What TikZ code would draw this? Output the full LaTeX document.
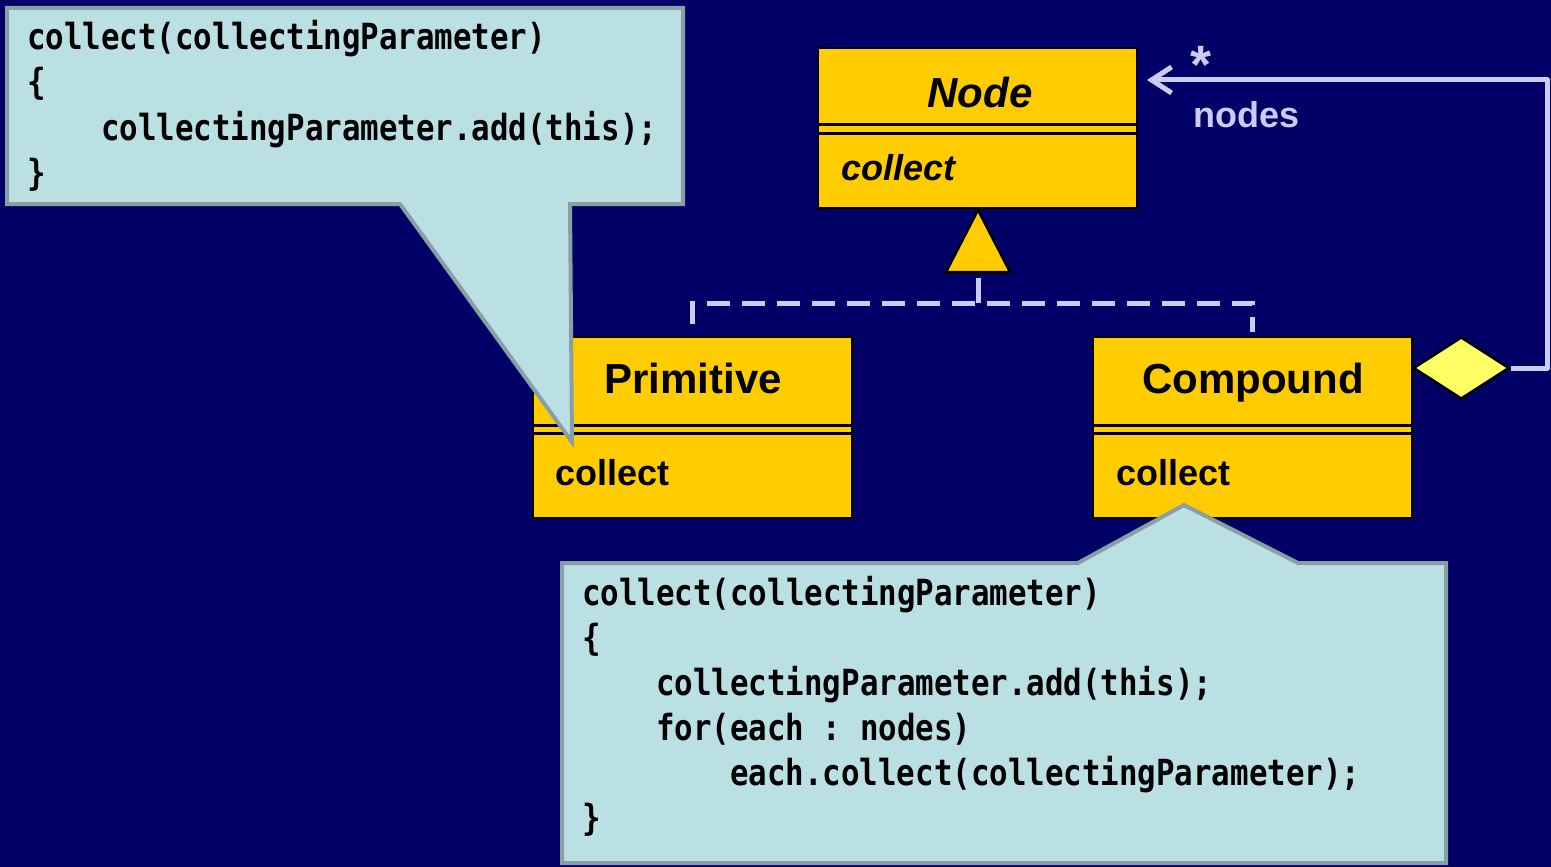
\documentclass[tikz,border=0pt]{standalone}
\usepackage{fontspec}
\setmainfont{Liberation Sans}
\newfontfamily\codefont[FakeStretch=0.855]{DejaVu Sans Mono}
\usetikzlibrary{shapes.geometric,arrows.meta}
\definecolor{navy}{RGB}{0,0,102}
\definecolor{umlfill}{RGB}{255,204,0}
\definecolor{lav}{RGB}{204,204,242}
\definecolor{notefill}{RGB}{186,224,228}
\definecolor{noteedge}{RGB}{136,160,164}
\definecolor{aggfill}{RGB}{255,255,102}
% one fixed-width blank in the code font
\newcommand{\cs}{\hphantom{x}}
\begin{document}
\begin{tikzpicture}[x=1pt,y=-1pt,
  classbox/.style={draw=black, fill=umlfill, line width=2.5pt, inner sep=0pt, minimum width=319pt},
  sepline/.style={draw=black, line width=3pt},
  title/.style={anchor=base, font=\fontsize{42}{48}\selectfont\bfseries},
  oper/.style={anchor=base west, font=\fontsize{36}{42}\selectfont\bfseries},
  note/.style={draw=noteedge, fill=notefill, line width=4pt, line join=miter},
  code/.style={anchor=base west, inner sep=0pt, font=\fontsize{36}{45}\selectfont\codefont\bfseries},
  genline/.style={draw=lav, line width=5pt},
  gendash/.style={genline, dash pattern=on 23pt off 12pt},
  assoc/.style={draw=lav, line width=5pt, line join=round},
  lavtext/.style={text=lav, font=\fontsize{36}{42}\selectfont\bfseries}]
\fill[navy] (0,0) rectangle (1551,867);
\useasboundingbox (0,0) rectangle (1551,867);

% ---- classes ----
\node[classbox, minimum height=160pt] (node) at (977.5,128) {};
\node[classbox, minimum height=181pt] (prim) at (692.5,427.5) {};
\node[classbox, minimum height=181pt] (comp) at (1252.5,427.5) {};

\foreach \c/\a/\b in {node/124/133, prim/425/433, comp/425/433}{
  \draw[sepline] (\c.west |- 0,\a) -- (\c.east |- 0,\a);
  \draw[sepline] (\c.west |- 0,\b) -- (\c.east |- 0,\b);
}

\node[title, font=\fontsize{42}{48}\selectfont\bfseries\itshape] (nodename) at (980,107) {Node};
\node[oper, font=\fontsize{36}{42}\selectfont\bfseries\itshape] (nodeop) at (838,180) {collect};
\node[title] (primname) at (693,393) {Primitive};
\node[oper] (primop) at (552,485) {collect};
\node[title] (compname) at (1253,393) {Compound};
\node[oper] (compop) at (1113,485) {collect};

% ---- generalization ----
\draw[fill=umlfill, line width=2.5pt, line join=miter] (978,210) -- (1010,272) -- (946,272) -- cycle;
\coordinate (genstem) at (978,278);
\coordinate (genbar) at (978,303);
\draw[genline] (genstem) -- (genbar);
\draw[gendash] ([yshift=12pt]prim.north) |- (genbar) -| ([yshift=4pt]comp.north);

% ---- aggregation ----
\node[diamond, draw=black, fill=aggfill, line width=2.5pt, inner sep=0pt,
      minimum width=96pt, minimum height=62pt, anchor=west] (agg) at (1412,368) {};
\coordinate (navend) at (1147,80);
\draw[assoc, -{Straight Barb[length=20pt,width=26pt]}] (agg.east) -- ++(37,0) |- (navend);
\node[lavtext, anchor=base, font=\fontsize{54}{60}\selectfont\bfseries] (mult) at (1201,84) {*};
\node[lavtext, anchor=base west] (role) at (1190,128) {nodes};

% ---- notes ----
\draw[note] (7,8) -- (683,8) -- (683,204) -- (570,204) -- (572,442) -- (400,204) -- (7,204) -- cycle;
\node[code] (a1) at (27,50) {collect(collectingParameter)};
\node[code] (a2) at (27,95) {\{};
\node[code] (a3) at (101,140) {collectingParameter.add(this);};
\node[code] (a4) at (27,185) {\}};

\draw[note] (562,563) -- (1078,563) -- (1184,505) -- (1298,563) -- (1446,563) -- (1446,863) -- (562,863) -- cycle;
\node[code] (b1) at (582,605) {collect(collectingParameter)};
\node[code] (b2) at (582,650) {\{};
\node[code] (b3) at (656,695) {collectingParameter.add(this);};
\node[code] (b4) at (656,740) {for(each\cs:\cs nodes)};
\node[code] (b5) at (730,785) {each.collect(collectingParameter);};
\node[code] (b6) at (582,830) {\}};
\end{tikzpicture}
\end{document}
